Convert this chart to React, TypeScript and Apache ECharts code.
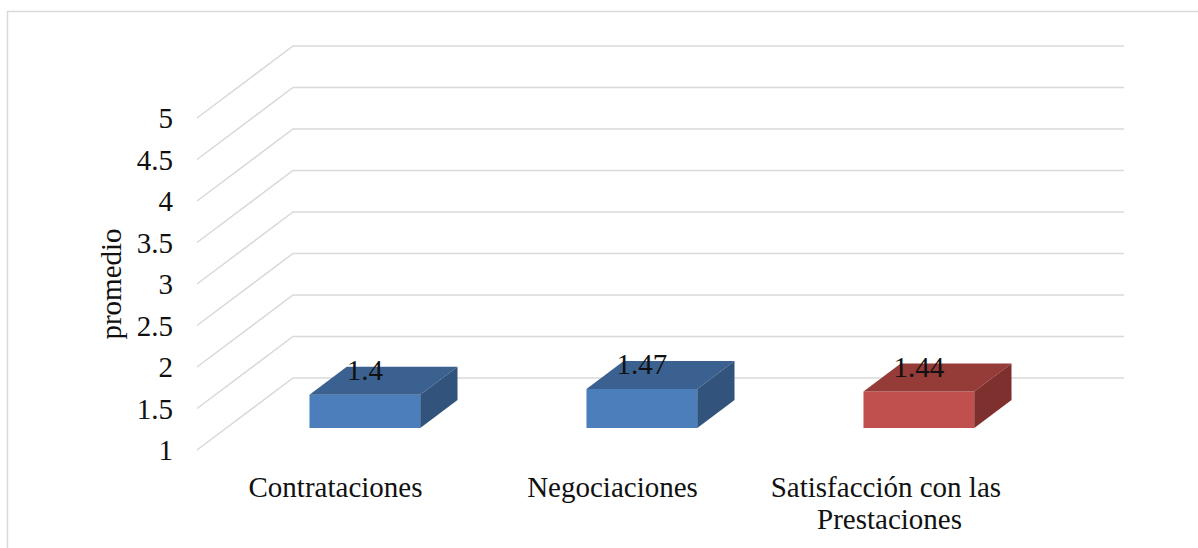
import { useEffect, useRef } from "react";
import * as echarts from "echarts";

// Average scores per dimension
const categories = ["Contrataciones", "Negociaciones", "Satisfacción con las Prestaciones"];
const promedios = [1.4, 1.47, 1.44];
const yTicks = [1, 1.5, 2, 2.5, 3, 3.5, 4, 4.5, 5];
const yLabel = "promedio";

// Face shades for each box (front, top, right side)
const palette = [
  { front: "#4d7ebc", top: "#3b6190", side: "#31537c" },
  { front: "#4d7ebc", top: "#3b6190", side: "#31537c" },
  { front: "#c0504d", top: "#953b38", side: "#7d302e" },
];

// Oblique projection of the floor depth, in pixels
const DEPTH_X = 96;
const DEPTH_Y = -72;
const BAR_FRONT = 0.306;
const BAR_BACK = 0.694;
const BAR_RATIO = 0.4;
const FONT = '"Liberation Serif", "DejaVu Serif", "Times New Roman", serif';
const FONT_SIZE = 29;
const GRID_COLOR = "#d9d9d9";

export default function App() {
  const ref = useRef<HTMLDivElement>(null);

  useEffect(() => {
    if (!ref.current) return;
    const chart = echarts.init(ref.current, undefined, { renderer: "svg" });

    // Back wall and side wall gridlines for each tick value
    const wallRender = (params: any, api: any) => {
      const cs = params.coordSys;
      const y = api.coord([0, api.value(1)])[1];
      const left = cs.x;
      const right = cs.x + cs.width;
      return {
        type: "polyline",
        shape: {
          points: [
            [left, y],
            [left + DEPTH_X, y + DEPTH_Y],
            [right + DEPTH_X, y + DEPTH_Y],
          ],
        },
        style: { stroke: GRID_COLOR, lineWidth: 1.5, fill: "none" },
        silent: true,
      };
    };

    // Extruded box for each value, with its label on the top face
    const barRender = (params: any, api: any) => {
      const idx = api.value(0);
      const v = api.value(1);
      const band = api.size([1, 0])[0];
      const [cx, yTop] = api.coord([idx, v]);
      const yBase = api.coord([idx, yTicks[0]])[1];
      const w = band * BAR_RATIO;
      const x0 = cx - w / 2;
      const p = (x: number, y: number, t: number) => [x + DEPTH_X * t, y + DEPTH_Y * t];
      const c = palette[idx % palette.length];
      return {
        type: "group",
        children: [
          {
            type: "polygon",
            shape: {
              points: [
                p(x0, yBase, BAR_FRONT),
                p(x0 + w, yBase, BAR_FRONT),
                p(x0 + w, yTop, BAR_FRONT),
                p(x0, yTop, BAR_FRONT),
              ],
            },
            style: { fill: c.front },
          },
          {
            type: "polygon",
            shape: {
              points: [
                p(x0, yTop, BAR_FRONT),
                p(x0 + w, yTop, BAR_FRONT),
                p(x0 + w, yTop, BAR_BACK),
                p(x0, yTop, BAR_BACK),
              ],
            },
            style: { fill: c.top },
          },
          {
            type: "polygon",
            shape: {
              points: [
                p(x0 + w, yBase, BAR_FRONT),
                p(x0 + w, yBase, BAR_BACK),
                p(x0 + w, yTop, BAR_BACK),
                p(x0 + w, yTop, BAR_FRONT),
              ],
            },
            style: { fill: c.side },
          },
          {
            type: "text",
            style: {
              text: String(v),
              x: cx + DEPTH_X * BAR_FRONT,
              y: yTop + DEPTH_Y * BAR_BACK + 3,
              align: "center",
              verticalAlign: "middle",
              fill: "#111",
              fontSize: FONT_SIZE,
              fontFamily: FONT,
            },
          },
        ],
      };
    };

    chart.setOption({
      animation: false,
      backgroundColor: "#ffffff",
      graphic: [
        {
          type: "rect",
          shape: { x: 7.5, y: 11.5, width: 1200, height: 600 },
          style: { fill: "none", stroke: GRID_COLOR, lineWidth: 1.5 },
          silent: true,
          z: -10,
        },
      ],
      grid: { left: 197, top: 118, width: 831, height: 332 },
      xAxis: {
        type: "category",
        data: categories,
        boundaryGap: true,
        axisLine: { show: false },
        axisTick: { show: false },
        axisLabel: {
          interval: 0,
          margin: 21,
          fontSize: FONT_SIZE,
          fontFamily: FONT,
          color: "#111",
          lineHeight: 32,
          width: 270,
          overflow: "break",
        },
      },
      yAxis: {
        type: "value",
        min: 1,
        max: 5,
        interval: 0.5,
        name: yLabel,
        nameLocation: "middle",
        nameGap: 62,
        nameTextStyle: { fontSize: FONT_SIZE, fontFamily: FONT, color: "#111" },
        axisLine: { show: false },
        axisTick: { show: false },
        splitLine: { show: false },
        axisLabel: {
          margin: 24,
          fontSize: FONT_SIZE,
          fontFamily: FONT,
          color: "#111",
        },
      },
      series: [
        {
          type: "custom",
          name: "walls",
          data: yTicks.map((v) => [0, v]),
          encode: { x: 0, y: 1 },
          renderItem: wallRender,
          clip: false,
          silent: true,
          z: 1,
        },
        {
          type: "custom",
          name: yLabel,
          data: promedios.map((v, i) => [i, v]),
          encode: { x: 0, y: 1 },
          renderItem: barRender,
          clip: false,
          z: 2,
        },
      ],
    });

    return () => chart.dispose();
  }, []);

  return (
    <div
      ref={ref}
      style={{ position: "fixed", left: 0, top: 0, width: 1198, height: 548 }}
    />
  );
}
